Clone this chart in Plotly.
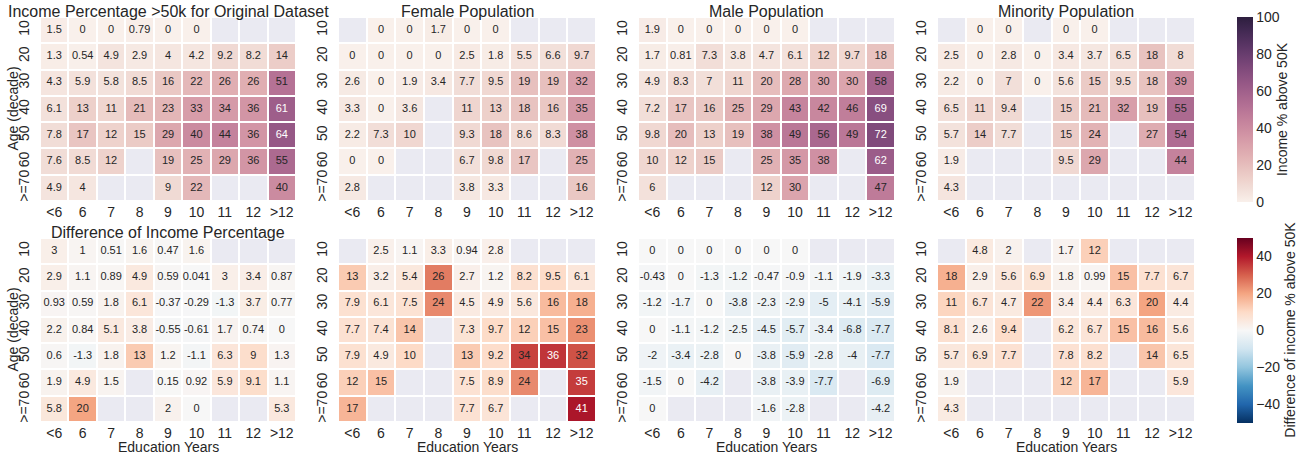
import numpy as np
import plotly.graph_objects as go

# ---------------- data ----------------
edu = ['<6', '6', '7', '8', '9', '10', '11', '12', '>12']
age = ['10', '20', '30', '40', '50', '60', '>=70']
N = None

orig = [
    [1.5, 0, 0, 0.79, 0, 0, N, N, N],
    [1.3, 0.54, 4.9, 2.9, 4, 4.2, 9.2, 8.2, 14],
    [4.3, 5.9, 5.8, 8.5, 16, 22, 26, 26, 51],
    [6.1, 13, 11, 21, 23, 33, 34, 36, 61],
    [7.8, 17, 12, 15, 29, 40, 44, 36, 64],
    [7.6, 8.5, 12, N, 19, 25, 29, 36, 55],
    [4.9, 4, N, N, 9, 22, N, N, 40],
]
female = [
    [N, 0, 0, 1.7, 0, 0, N, N, N],
    [0, 0, 0, 0, 2.5, 1.8, 5.5, 6.6, 9.7],
    [2.6, 0, 1.9, 3.4, 7.7, 9.5, 19, 19, 32],
    [3.3, 0, 3.6, N, 11, 13, 18, 16, 35],
    [2.2, 7.3, 10, N, 9.3, 18, 8.6, 8.3, 38],
    [0, 0, N, N, 6.7, 9.8, 17, N, 25],
    [2.8, N, N, N, 3.8, 3.3, N, N, 16],
]
male = [
    [1.9, 0, 0, 0, 0, 0, N, N, N],
    [1.7, 0.81, 7.3, 3.8, 4.7, 6.1, 12, 9.7, 18],
    [4.9, 8.3, 7, 11, 20, 28, 30, 30, 58],
    [7.2, 17, 16, 25, 29, 43, 42, 46, 69],
    [9.8, 20, 13, 19, 38, 49, 56, 49, 72],
    [10, 12, 15, N, 25, 35, 38, N, 62],
    [6, N, N, N, 12, 30, N, N, 47],
]
minority = [
    [N, 0, 0, N, 0, 0, N, N, N],
    [2.5, 0, 2.8, 0, 3.4, 3.7, 6.5, 18, 8],
    [2.2, 0, 7, 0, 5.6, 15, 9.5, 18, 39],
    [6.5, 11, 9.4, N, 15, 21, 32, 19, 55],
    [5.7, 14, 7.7, N, 15, 24, N, 27, 54],
    [1.9, N, N, N, 9.5, 29, N, N, 44],
    [4.3, N, N, N, N, N, N, N, N],
]
diff_orig = [
    [3, 1, 0.51, 1.6, 0.47, 1.6, N, N, N],
    [2.9, 1.1, 0.89, 4.9, 0.59, 0.041, 3, 3.4, 0.87],
    [0.93, 0.59, 1.8, 6.1, -0.37, -0.29, -1.3, 3.7, 0.77],
    [2.2, 0.84, 5.1, 3.8, -0.55, -0.61, 1.7, 0.74, 0],
    [0.6, -1.3, 1.8, 13, 1.2, -1.1, 6.3, 9, 1.3],
    [1.9, 4.9, 1.5, N, 0.15, 0.92, 5.9, 9.1, 1.1],
    [5.8, 20, N, N, 2, 0, N, N, 5.3],
]
diff_female = [
    [N, 2.5, 1.1, 3.3, 0.94, 2.8, N, N, N],
    [13, 3.2, 5.4, 26, 2.7, 1.2, 8.2, 9.5, 6.1],
    [7.9, 6.1, 7.5, 24, 4.5, 4.9, 5.6, 16, 18],
    [7.7, 7.4, 14, N, 7.3, 9.7, 12, 15, 23],
    [7.9, 4.9, 10, N, 13, 9.2, 34, 36, 32],
    [12, 15, N, N, 7.5, 8.9, 24, N, 35],
    [17, N, N, N, 7.7, 6.7, N, N, 41],
]
diff_male = [
    [0, 0, 0, 0, 0, 0, N, N, N],
    [-0.43, 0, -1.3, -1.2, -0.47, -0.9, -1.1, -1.9, -3.3],
    [-1.2, -1.7, 0, -3.8, -2.3, -2.9, -5, -4.1, -5.9],
    [0, -1.1, -1.2, -2.5, -4.5, -5.7, -3.4, -6.8, -7.7],
    [-2, -3.4, -2.8, 0, -3.8, -5.9, -2.8, -4, -7.7],
    [-1.5, 0, -4.2, N, -3.8, -3.9, -7.7, N, -6.9],
    [0, N, N, N, -1.6, -2.8, N, N, -4.2],
]
diff_minority = [
    [N, 4.8, 2, N, 1.7, 12, N, N, N],
    [18, 2.9, 5.6, 6.9, 1.8, 0.99, 15, 7.7, 6.7],
    [11, 6.7, 4.7, 22, 3.4, 4.4, 6.3, 20, 4.4],
    [8.1, 2.6, 9.4, N, 6.2, 6.7, 15, 16, 5.6],
    [5.7, 6.9, 7.7, N, 7.8, 8.2, N, 14, 6.5],
    [1.9, N, N, N, 12, 17, N, N, 5.9],
    [4.3, N, N, N, N, N, N, N, N],
]

top_titles = ["Income Percentage >50k for Original Dataset", "Female Population",
              "Male Population", "Minority Population"]
bot_titles = ["Difference of Income Percentage", "", "", ""]
top_data = [orig, female, male, minority]
bot_data = [diff_orig, diff_female, diff_male, diff_minority]

# ---------------- styling ----------------
W, H = 1305, 456
FONT = "Liberation Sans, Arial, sans-serif"
TXT = "#262626"
NAN_BG = "#EAEAF2"


def cubehelix(t, light=0.95, dark=0.15, start=0.0, rot=0.4, gamma=1.0, hue=0.8):
    x = light + (dark - light) * t
    xg = x ** gamma
    a = hue * xg * (1 - xg) / 2
    phi = 2 * np.pi * (start / 3 + rot * x)
    r = xg + a * (-0.14861 * np.cos(phi) + 1.78277 * np.sin(phi))
    g = xg + a * (-0.29227 * np.cos(phi) - 0.90649 * np.sin(phi))
    b = xg + a * (1.97294 * np.cos(phi))
    c = [int(round(255 * min(1, max(0, v)))) for v in (r, g, b)]
    return "rgb(%d,%d,%d)" % tuple(c)


top_scale = [[t, cubehelix(t)] for t in np.linspace(0, 1, 26)]
rdbu = ['#053061', '#2166ac', '#4393c3', '#92c5de', '#d1e5f0', '#f7f7f7',
        '#fddbc7', '#f4a582', '#d6604d', '#b2182b', '#67001f']
bot_scale = [[i / 10, c] for i, c in enumerate(rdbu)]

# pixel geometry in window pixels
panel_x = [(40, 296), (338, 596), (638, 895), (937, 1195)]
row_y = [(17, 201), (238, 422)]


def px_x(p):
    return p / W


def px_y(p):
    return 1 - p / H


fig = go.Figure()
annotations = []
layout_axes = {}


def fmt(v):
    return '{:.2g}'.format(v)


idx = 0
for r, (titles, datas) in enumerate([(top_titles, top_data), (bot_titles, bot_data)]):
    for c in range(4):
        idx += 1
        data = datas[c]
        xa = 'x' if idx == 1 else 'x%d' % idx
        ya = 'y' if idx == 1 else 'y%d' % idx
        xkey = 'xaxis' if idx == 1 else 'xaxis%d' % idx
        ykey = 'yaxis' if idx == 1 else 'yaxis%d' % idx
        mask = [[1 if v is None else None for v in row] for row in data]
        fig.add_trace(go.Heatmap(z=mask, x=edu, y=age, xaxis=xa, yaxis=ya,
                                 colorscale=[[0, NAN_BG], [1, NAN_BG]], zmin=0, zmax=1,
                                 showscale=False, xgap=2, ygap=2, hoverinfo='skip'))
        fig.add_trace(go.Heatmap(z=data, x=edu, y=age, xaxis=xa, yaxis=ya,
                                 coloraxis='coloraxis' if r == 0 else 'coloraxis2',
                                 xgap=2, ygap=2))
        tx, ty, tt, tc = [], [], [], []
        thr = 60 if r == 0 else 34.5
        for i, row in enumerate(data):
            for j, v in enumerate(row):
                if v is None:
                    continue
                tx.append(edu[j]); ty.append(age[i]); tt.append(fmt(v))
                tc.append('white' if v > thr else TXT)
        fig.add_trace(go.Scatter(x=tx, y=ty, text=tt, mode='text', xaxis=xa, yaxis=ya,
                                 textfont=dict(family=FONT, size=11, color=tc),
                                 hoverinfo='skip', showlegend=False))
        x0, x1 = panel_x[c]
        y0, y1 = row_y[r]
        layout_axes[xkey] = dict(domain=[px_x(x0), px_x(x1)], anchor=ya, type='category',
                                 categoryorder='array', categoryarray=edu,
                                 range=[-0.5, 8.5], showgrid=False, zeroline=False,
                                 showline=False, ticks='', ticklabelstandoff=1,
                                 tickfont=dict(family=FONT, size=14, color=TXT),
                                 fixedrange=True)
        layout_axes[ykey] = dict(domain=[px_y(y1), px_y(y0)], anchor=xa, type='category',
                                 categoryorder='array', categoryarray=age,
                                 range=[6.5, -0.5], showgrid=False, zeroline=False,
                                 showline=False, ticks='', tickangle=-90,
                                 ticklabelstandoff=7,
                                 tickfont=dict(family=FONT, size=14, color=TXT),
                                 fixedrange=True)
        title = titles[c]
        if title:
            annotations.append(dict(text=title, x=px_x((x0 + x1) / 2),
                                    y=px_y(y0 - 6), xref='paper', yref='paper',
                                    xanchor='center', yanchor='middle', showarrow=False,
                                    font=dict(family=FONT, size=16, color=TXT)))
        if c == 0:
            annotations.append(dict(text="Age (decade)", x=px_x(12.5), y=px_y((y0 + y1) / 2),
                                    xref='paper', yref='paper', xanchor='center',
                                    yanchor='middle', textangle=-90, showarrow=False,
                                    font=dict(family=FONT, size=14, color=TXT)))
        if r == 1:
            annotations.append(dict(text="Education Years", x=px_x((x0 + x1) / 2),
                                    y=px_y(447), xref='paper', yref='paper',
                                    xanchor='center', yanchor='middle', showarrow=False,
                                    font=dict(family=FONT, size=14, color=TXT)))

cb_common = dict(x=px_x(1237), xanchor='left', xpad=0, ypad=0, thickness=16,
                 len=185 / H, lenmode='fraction',
                 yanchor='middle', outlinewidth=0, ticks='', ticklabelposition='outside',
                 tickfont=dict(family=FONT, size=14, color=TXT))

fig.update_layout(
    width=W, height=H,
    margin=dict(l=0, r=0, t=0, b=0, autoexpand=False),
    paper_bgcolor='white', plot_bgcolor='white',
    font=dict(family=FONT, color=TXT),
    showlegend=False,
    annotations=annotations,
    coloraxis=dict(colorscale=top_scale, cmin=0, cmax=100,
                   colorbar=dict(**cb_common, y=px_y(109.5), tickvals=[0, 20, 40, 60, 80, 100],
                                 title=dict(text="Income % above 50K", side='right',
                                            font=dict(family=FONT, size=14, color=TXT)))),
    coloraxis2=dict(colorscale=bot_scale, cmin=-50, cmax=50,
                    colorbar=dict(**cb_common, y=px_y(330), tickvals=[-40, -20, 0, 20, 40],
                                  title=dict(text="Difference of income % above 50K", side='right',
                                             font=dict(family=FONT, size=14, color=TXT)))),
    **layout_axes,
)

# remove the browser's default 8px page margin so the figure fills the window
fig.write_html("out.html", config={'displayModeBar': False},
               post_script="document.body.style.margin='0';")
